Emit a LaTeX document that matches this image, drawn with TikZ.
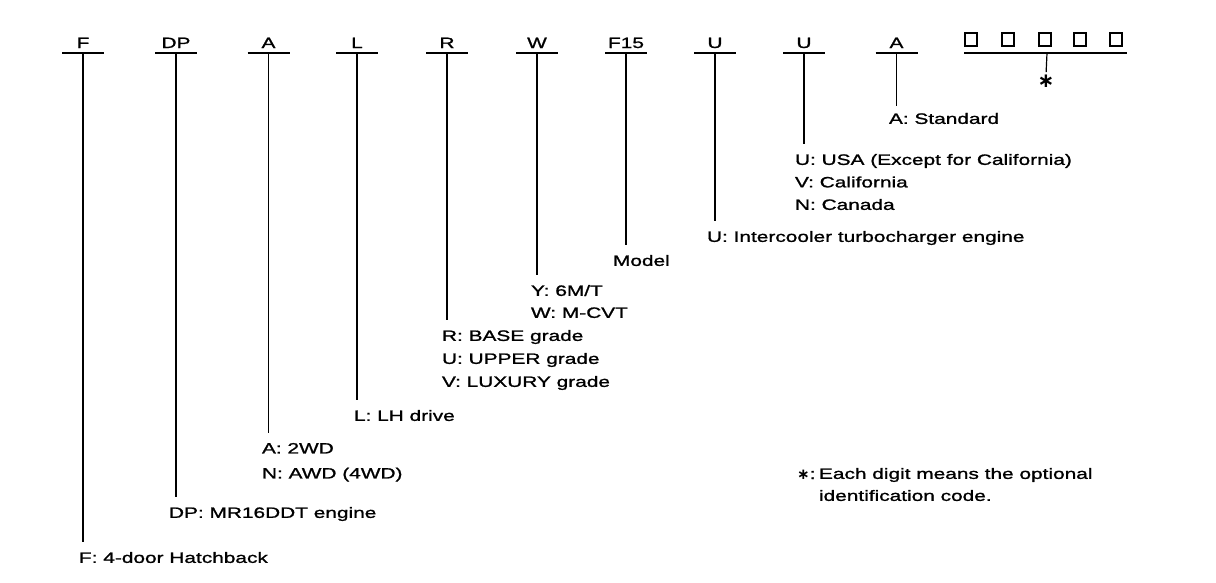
\documentclass[tikz,border=0pt]{standalone}
\usepackage{fontspec}
\setmainfont{Liberation Sans}[FakeStretch=1.39,FakeBold=1.2]
\newfontfamily\djv{DejaVu Sans}
\begin{document}
\begin{tikzpicture}[x=1pt,y=-1pt,
  code/.style={draw=none,inner sep=0pt,outer sep=0pt,minimum width=42pt,
    text height=11pt,text depth=5pt,anchor=south,font=\fontsize{15}{18}\selectfont},
  bar/.style={line width=2pt},
  stem/.style={line width=2pt,shorten >=10pt},
  thinstem/.style={line width=1.2pt,shorten >=10pt},
  desc/.style={inner sep=0pt,outer sep=0pt,anchor=north west,align=left,
    font=\fontsize{15}{23}\selectfont},
  digit/.style={draw,line width=1.6pt,minimum size=12.5pt,inner sep=0pt}]
\useasboundingbox[fill=white] (0,0) rectangle (1216,582);
% code letters
\node[code] (cF)  at (83,53)    {F};
\node[code] (cDP) at (176,53)   {DP};
\node[code] (cA)  at (268.5,53) {A};
\node[code] (cL)  at (357,53)   {L};
\node[code] (cR)  at (447,53)   {R};
\node[code] (cW)  at (537,53)   {W};
\node[code] (cM)  at (626,53)   {F15};
\node[code] (cU)  at (715,53)   {U};
\node[code] (cV)  at (804,53)   {U};
\node[code] (cS)  at (896.5,53) {A};
\node[code,minimum width=163pt,text height=0pt,text depth=0pt] (cX) at (1045.5,53) {};
% optional digit boxes
\node[digit] (b1) at (971,39.5)  {};
\node[digit] (b2) at (1008,39.5) {};
\node[digit] (b3) at (1045,39.5) {};
\node[digit] (b4) at (1080,39.5) {};
\node[digit] (b5) at (1116,39.5) {};
\node[inner sep=0pt,font=\djv\bfseries\fontsize{20}{20}\selectfont] (star) at (1046,81.5) {∗};
% bars
\foreach \n in {cF,cDP,cA,cL,cR,cW,cM,cU,cV,cS,cX}
  \draw[bar] (\n.south west) -- (\n.south east);
% descriptions
\node[desc] (dF)  at (79,552)  {F: 4-door Hatchback};
\node[desc] (dDP) at (169,507) {DP: MR16DDT engine};
\node[desc,font=\fontsize{15}{25}\selectfont] (dA) at (262,443) {A: 2WD\\N: AWD (4WD)};
\node[desc] (dL)  at (354,410) {L: LH drive};
\node[desc] (dR)  at (442,330) {R: BASE grade\\U: UPPER grade\\V: LUXURY grade};
\node[desc,font=\fontsize{15}{22}\selectfont] (dW) at (531,285) {Y: 6M/T\\W: M-CVT};
\node[desc] (dM)  at (613,255) {Model};
\node[desc] (dU)  at (707,231) {U: Intercooler turbocharger engine};
\node[desc,font=\fontsize{15}{22.5}\selectfont] (dV) at (795,154) {U: USA (Except for California)\\V: California\\N: Canada};
\node[desc] (dS)  at (889,113) {A: Standard};
% stems
\draw[stem] (cF.south)  -- (cF.south |- dF.north);
\draw[stem] (cDP.south) -- (cDP.south |- dDP.north);
\draw[thinstem] (cA.south) -- (cA.south |- dA.north);
\draw[stem] (cL.south)  -- (cL.south |- dL.north);
\draw[stem] (cR.south)  -- (cR.south |- dR.north);
\draw[stem] (cW.south)  -- (cW.south |- dW.north);
\draw[stem] (cM.south)  -- (cM.south |- dM.north);
\draw[stem] (cU.south)  -- (cU.south |- dU.north);
\draw[stem] (cV.south)  -- (cV.south |- dV.north);
\draw[thinstem,shorten >=7pt] (cS.south) -- (cS.south |- dS.north);
\draw[line width=1.2pt,shorten >=3pt] ([xshift=1.5pt]cX.south) -- (star.north);
% footnote
\node[inner sep=0pt,anchor=base west,font=\fontsize{15}{22}\selectfont] (nk) at (797,479) {{\djv\bfseries ∗}:};
\node[desc,font=\fontsize{15}{22}\selectfont] (nt) at (819,468) {Each digit means the optional\\identification code.};
\end{tikzpicture}
\end{document}
